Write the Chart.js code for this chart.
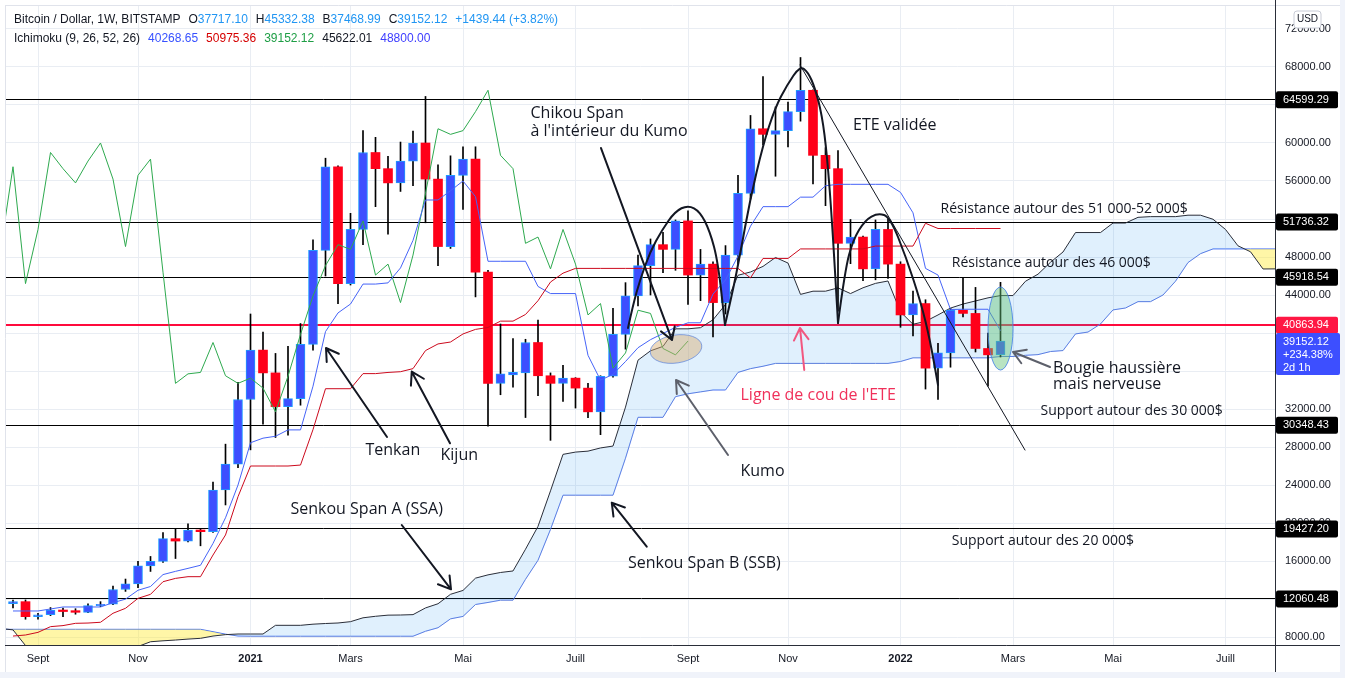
<!DOCTYPE html>
<html lang="fr">
<head>
<meta charset="utf-8">
<title>Bitcoin / Dollar - Ichimoku hebdo</title>
<script src="https://cdn.jsdelivr.net/npm/chart.js@4.4.1/dist/chart.umd.min.js"></script>
<style>
    html, body { margin: 0; padding: 0; background: #ffffff; overflow: hidden; }
    #btcChart { display: block; }
</style>
</head>
<body>
<canvas id="btcChart" width="1345" height="678"></canvas>
<script>
// weekly bars, index 0 = week of 24 Aug 2020, index 79 = week of 28 Feb 2022
var opens = [11520, 11720, 10140, 10340, 10840, 10770, 10600, 11300, 11450, 13000,
    13600, 15480, 15960, 18350, 18100, 19260, 19090, 23470, 26200, 33000,
    38200, 35800, 32250, 33100, 38800, 48700, 57500, 45200, 50900, 59000,
    57300, 55800, 58100, 60000, 56200, 49100, 56600, 58300, 46400, 34700,
    35600, 35800, 39000, 35500, 34700, 35250, 34200, 31700, 35450, 39850,
    43900, 47100, 49300, 48800, 51800, 46100, 47250, 43200, 48200, 54700,
    61500, 60910, 61300, 63300, 65550, 58700, 57300, 49440, 50100, 46750,
    50900, 47250, 41900, 43100, 36300, 37900, 42400, 42060, 38370, 37717.10];
var highs = [11890, 11900, 10490, 11100, 11050, 10980, 11480, 11720, 13360, 14100,
    15970, 16480, 18990, 19420, 19900, 19420, 24300, 28300, 34800, 42000,
    40100, 37850, 38600, 41000, 49800, 58400, 57600, 52600, 61300, 60600,
    58600, 60100, 61250, 64900, 57700, 58650, 59600, 59600, 46600, 40950,
    39400, 39340, 41370, 35800, 36600, 35300, 34700, 35500, 42600, 45300,
    48200, 49900, 50600, 51900, 52850, 48800, 47500, 49200, 56600, 62900,
    67000, 63800, 64300, 69000, 65600, 59500, 59200, 51950, 50200, 51900,
    52000, 47500, 44400, 43500, 38900, 42600, 45800, 44800, 40000, 45332.38];
var lows = [11050, 9870, 9870, 10250, 10150, 10400, 10550, 11200, 11400, 12800,
    13200, 14900, 15860, 16260, 18000, 17600, 19000, 21900, 25830, 27700,
    30400, 29000, 29250, 32400, 38200, 46000, 43100, 45050, 49300, 53300,
    50400, 54900, 55500, 51600, 47100, 48900, 53000, 43800, 30200, 33500,
    34300, 31100, 33400, 28700, 32800, 32100, 31100, 29300, 35350, 38300,
    42850, 44000, 46350, 46600, 43000, 43400, 39600, 42000, 47300, 54100,
    59800, 56500, 59600, 62300, 55700, 53400, 42300, 47300, 45500, 45600,
    45750, 40600, 39700, 34100, 33000, 36400, 41700, 38000, 34400, 37468.99];
var closes = [11720, 10140, 10340, 10840, 10680, 10600, 11300, 11450, 13000, 13600,
    15480, 15960, 18350, 18100, 19260, 19090, 23470, 26200, 33000, 38200,
    35800, 32250, 33100, 38800, 48700, 57500, 45200, 50900, 59000, 57300,
    55800, 58100, 60000, 56200, 49100, 56600, 58300, 46400, 34700, 35700,
    35850, 39000, 35500, 34700, 35250, 34200, 31700, 35450, 39850, 43900,
    47100, 49300, 48800, 51800, 46100, 47250, 43200, 48200, 54700, 61500,
    60910, 61300, 63300, 65550, 58700, 57300, 49440, 50100, 46750, 50900,
    47250, 41900, 43100, 36300, 37900, 42400, 42060, 38370, 37700, 39152.12];

// Ichimoku (9, 26, 52, 26), one value per bar
var tenkan = [10740, 10740, 10740, 10950, 11160, 11160, 11160, 11160, 11615, 11985,
    12920, 13315, 14570, 14910, 15225, 15550, 17850, 20550, 24000, 28450,
    28930, 29130, 29800, 29800, 34400, 40150, 42115, 43050, 45150, 45150,
    45275, 46850, 49750, 54000, 54000, 54975, 56000, 54350, 47550, 47550,
    47550, 47550, 44900, 44150, 44150, 44150, 37650, 35035, 35650, 37000,
    38450, 39300, 39950, 40600, 41075, 41075, 44100, 45575, 48100, 51250,
    53300, 53300, 53300, 54300, 54300, 55500, 55650, 55650, 55650, 55650,
    55650, 54800, 52650, 46800, 46100, 42475, 42500, 42500, 42500, 40250];
var kijun = [8100, 8210, 8490, 9090, 9200, 9440, 9470, 9550, 10500, 11020,
    12070, 12490, 13820, 14170, 14350, 14350, 16630, 18740, 22770, 26000,
    26000, 26000, 26000, 26100, 29835, 34135, 34135, 34135, 35725, 35725,
    35850, 35925, 36250, 38150, 38850, 39050, 39900, 40380, 40580, 41250,
    41250, 41950, 43400, 45365, 46300, 46800, 46800, 46800, 46800, 46800,
    46800, 46800, 46800, 46800, 46800, 46800, 46800, 46800, 46800, 45800,
    47850, 47850, 47850, 48850, 48850, 48850, 48850, 48850, 48850, 49150,
    49150, 49150, 49150, 51550, 51000, 51000, 51000, 51000, 51000, 51000];
// leading spans, first value sits one week before bar 0, last one 25 weeks after bar 79
var ssaLead = [8900, 8750, 7100, 7000, 7000, 7000, 7000, 7000, 7000, 7000,
    7000, 7000, 7500, 7600, 7680, 7780, 7860, 8100, 8250, 8315,
    8315, 8315, 9230, 9230, 9230, 9350,
    9420, 9475, 9615, 10020, 10180, 10300, 10315, 10355, 11060, 11500,
    12495, 12900, 14195, 14540, 14790, 14950, 17240, 19645, 23385, 27225,
    27465, 27565, 27900, 28100, 32200, 37140, 38125, 38590, 40440, 40440,
    40560, 41390, 43000, 46075, 46425, 47010, 47950, 47365, 44065, 44400,
    44400, 44750, 44150, 44760, 45225, 45475, 42225, 40920, 41225, 41900,
    42625, 43050, 43375, 43700, 43940, 43940, 45450, 46190, 47450, 48525,
    50575, 50575, 50575, 51575, 51575, 52175, 52250, 52250, 52250, 52400,
    52400, 51975, 50900, 49175, 48550, 46740, 46750, 46750, 46750, 45625];
var ssbLead = [8810, 8810, 8810, 8810, 8810, 8810, 8810, 8810, 8810, 8810,
    8810, 8810, 8810, 8810, 8810, 8810, 8810, 8560, 8300, 8100,
    8080, 8080, 8080, 8080, 8080, 8080, 8080, 8080, 8080, 8080,
    8080, 8080, 8080, 8080, 8605, 8975, 9910, 10165, 11420, 11635,
    11875, 11875, 14075, 16075, 19325, 22925, 22925, 22925, 22925, 22925,
    26825, 31125, 31125, 31125, 33300, 33600, 33800, 34000, 34000, 35850,
    36250, 36500, 36800, 36800, 36800, 36800, 36800, 36800, 36800, 36800,
    36800, 36800, 37000, 37385, 37385, 37385, 37385, 37385, 37385, 37385,
    37525, 37525, 37650, 37725, 38050, 38150, 39900, 40100, 40950, 42430,
    42630, 43300, 43300, 44000, 45450, 47415, 48350, 48850, 48850, 48850,
    48850, 48850, 48850, 48850, 48850, 48850];

var monthTicks = [2, 10, 19, 27, 36, 45, 54, 62, 71, 80, 88, 97];
var monthLabels = ['Sept', 'Nov', '2021', 'Mars', 'Mai', 'Juill', 'Sept', 'Nov', '2022', 'Mars', 'Mai', 'Juill'];
var priceTicks = [8000, 12000, 16000, 20000, 24000, 28000, 32000, 36000, 40000,
    44000, 48000, 52000, 56000, 60000, 64000, 68000, 72000];
var levels = [64599.29, 51736.32, 45918.54, 40863.94, 30348.43, 19427.20, 12060.48];
var neckline = 40863.94;

var ink = '#131722';
var grey = '#5d606b';
var pink = '#f0305a';
var upFill = '#3d4fff', upEdge = '#1e9bff', downFill = '#ff0019';

function points(values, shift) {
    return values.map(function (v, i) { return { x: i + shift, y: v }; });
}

var isUp = closes.map(function (c, i) { return c >= opens[i]; });
var bodies = opens.map(function (o, i) { return { x: i, y: [o, closes[i]] }; });
var wicks = lows.map(function (l, i) { return { x: i, y: [l, highs[i]] }; });

function roundRect(c, x, y, w, h, r) {
    c.beginPath();
    c.moveTo(x + r, y);
    c.lineTo(x + w - r, y);
    c.quadraticCurveTo(x + w, y, x + w, y + r);
    c.lineTo(x + w, y + h - r);
    c.quadraticCurveTo(x + w, y + h, x + w - r, y + h);
    c.lineTo(x + r, y + h);
    c.quadraticCurveTo(x, y + h, x, y + h - r);
    c.lineTo(x, y + r);
    c.quadraticCurveTo(x, y, x + r, y);
    c.closePath();
}

function drawArrow(c, x1, y1, x2, y2, color, width) {
    var ang = Math.atan2(y2 - y1, x2 - x1), len = 14;
    c.strokeStyle = color;
    c.lineWidth = width;
    c.lineCap = 'round';
    c.lineJoin = 'round';
    c.beginPath();
    c.moveTo(x1, y1);
    c.lineTo(x2, y2);
    c.moveTo(x2 - len * Math.cos(ang - 0.55), y2 - len * Math.sin(ang - 0.55));
    c.lineTo(x2, y2);
    c.lineTo(x2 - len * Math.cos(ang + 0.55), y2 - len * Math.sin(ang + 0.55));
    c.stroke();
}

function smoothLine(c, pts) {
    c.beginPath();
    c.moveTo(pts[0][0], pts[0][1]);
    for (var k = 1; k < pts.length - 1; k++) {
        var mx = (pts[k][0] + pts[k + 1][0]) / 2, my = (pts[k][1] + pts[k + 1][1]) / 2;
        c.quadraticCurveTo(pts[k][0], pts[k][1], mx, my);
    }
    c.lineTo(pts[pts.length - 1][0], pts[pts.length - 1][1]);
    c.stroke();
}

function noPadding(axis) {
    axis.paddingTop = 0;
    axis.paddingBottom = 0;
    axis.paddingLeft = 0;
    axis.paddingRight = 0;
}

// drawings made on the chart (in week index / price units)
var leftShoulder = [[49.2, 40530], [49.6, 42950], [50.16, 45580], [50.96, 48530], [51.92, 50840],
    [52.96, 52790], [54.0, 53470], [54.96, 52790], [55.76, 50680], [56.4, 47470], [56.96, 40840]];
var head = [[56.96, 40840], [57.6, 44530], [58.16, 48210], [58.96, 54000], [60.0, 59790], [60.96, 63680],
    [61.92, 66110], [62.96, 68110], [63.6, 67470], [64.16, 65790], [64.72, 62950], [65.12, 58740],
    [65.52, 51890], [66.0, 41050]];
var rightShoulder = [[66.0, 41050], [66.56, 46630], [67.2, 49790], [68.16, 51890], [69.2, 52630],
    [70.16, 52210], [71.44, 48000], [72.64, 43160], [73.36, 39260], [74.0, 34530]];

var notes = [
    ['Chikou Span', 41.4, 63150, 16, ink],
    ["à l'intérieur du Kumo", 41.4, 61260, 16, ink],
    ['ETE validée', 67.2, 61890, 16, ink],
    ['Résistance autour des 51 000-52 000$', 74.2, 53050, 14, ink],
    ['Résistance autour des 46 000$', 75.1, 47370, 14, ink],
    ['Bougie haussière', 83.2, 36320, 16, ink],
    ['mais nerveuse', 83.2, 34630, 16, ink],
    ['Support autour des 30 000$', 82.2, 31790, 14, ink],
    ['Support autour des 20 000$', 75.1, 18100, 14, ink],
    ["Ligne de cou de l'ETE", 58.2, 33470, 16, pink],
    ['Tenkan', 28.2, 27680, 16, ink],
    ['Kijun', 34.2, 27160, 16, ink],
    ['Kumo', 58.2, 25470, 16, ink],
    ['Senkou Span A (SSA)', 22.2, 21470, 16, ink],
    ['Senkou Span B (SSB)', 49.2, 15790, 16, ink]
];
var arrows = [
    [29.92, 29050, 25.04, 38420, ink],
    [34.96, 28390, 31.9, 35930, ink],
    [31.1, 19790, 35.04, 13020, ink],
    [50.7, 17510, 47.9, 22140, ink],
    [57.2, 27160, 53.04, 35050, grey],
    [47.04, 59470, 52.72, 39260, ink],
    [63.3, 36110, 62.96, 40530, '#f2577f'],
    [82.96, 36420, 80, 38000, grey]
];

var chartDrawings = {
    id: 'chartDrawings',
    beforeDraw: function (chart) {
        var c = chart.ctx;
        c.save();
        c.fillStyle = '#ffffff';
        c.fillRect(0, 0, chart.width, chart.height);
        c.restore();
    },
    beforeDatasetsDraw: function (chart) {
        var c = chart.ctx, a = chart.chartArea, ys = chart.scales.y;
        c.save();
        levels.forEach(function (lv) {
            var red = lv === neckline;
            var y = Math.round(ys.getPixelForValue(lv)) + (red ? 0 : 0.5);
            c.strokeStyle = red ? '#ff0a3c' : '#000000';
            c.lineWidth = red ? 2 : 1;
            c.beginPath();
            c.moveTo(a.left, y);
            c.lineTo(a.right + 2, y);
            c.stroke();
        });
        c.restore();
    },
    afterDatasetsDraw: function (chart) {
        var c = chart.ctx, a = chart.chartArea, xs = chart.scales.x, ys = chart.scales.y;
        function P(p) { return [xs.getPixelForValue(p[0]), ys.getPixelForValue(p[1])]; }
        c.save();
        c.beginPath();
        c.rect(a.left, a.top, a.right - a.left, a.bottom - a.top);
        c.clip();

        // ellipses
        var e1 = P([53.04, 38316]);
        c.beginPath();
        c.ellipse(e1[0], e1[1], 26, 14, -0.15, 0, Math.PI * 2);
        c.fillStyle = 'rgba(214,170,110,0.45)';
        c.fill();
        c.strokeStyle = 'rgba(90,130,220,0.7)';
        c.lineWidth = 1;
        c.stroke();
        var e2 = P([79, 40470]);
        c.beginPath();
        c.ellipse(e2[0], e2[1], 12.5, 41.5, 0, 0, Math.PI * 2);
        c.fillStyle = 'rgba(100,195,120,0.45)';
        c.fill();
        c.strokeStyle = 'rgba(70,130,230,0.85)';
        c.stroke();

        // head and shoulders
        c.strokeStyle = ink;
        c.lineWidth = 2;
        c.lineCap = 'round';
        smoothLine(c, leftShoulder.map(P));
        smoothLine(c, head.map(P));
        smoothLine(c, rightShoulder.map(P));
        var d1 = P([62.96, 68210]), d2 = P([80.96, 27680]);
        c.lineWidth = 1;
        c.beginPath();
        c.moveTo(d1[0], d1[1]);
        c.lineTo(d2[0], d2[1]);
        c.stroke();

        arrows.forEach(function (ar) {
            var t = P([ar[0], ar[1]]), h = P([ar[2], ar[3]]);
            drawArrow(c, t[0], t[1], h[0], h[1], ar[4], 2);
        });

        c.textBaseline = 'middle';
        c.textAlign = 'left';
        notes.forEach(function (n) {
            var p = P([n[1], n[2]]);
            c.font = n[3] + 'px "Open Sans"';
            c.fillStyle = n[4];
            c.fillText(n[0], p[0], p[1]);
        });
        c.restore();
    },
    afterDraw: function (chart) {
        var c = chart.ctx, a = chart.chartArea, ys = chart.scales.y;
        c.save();
        // frame
        c.fillStyle = '#f0f3fa';
        c.fillRect(1340, 0, 5, chart.height);
        c.fillRect(0, 672, chart.width, 6);
        c.strokeStyle = '#e0e3eb';
        c.lineWidth = 1;
        c.beginPath();
        c.moveTo(5.5, 5); c.lineTo(5.5, 672);
        c.moveTo(5, 5.5); c.lineTo(1340, 5.5);
        c.stroke();
        c.strokeStyle = '#2a2e39';
        c.beginPath();
        c.moveTo(a.right + 0.5, 0); c.lineTo(a.right + 0.5, 672);
        c.moveTo(5, a.bottom + 0.5); c.lineTo(1340, a.bottom + 0.5);
        c.stroke();

        // price tags on the axis
        c.font = '11px "Liberation Sans"';
        c.textBaseline = 'middle';
        c.textAlign = 'left';
        levels.forEach(function (lv) {
            var y = ys.getPixelForValue(lv);
            c.fillStyle = lv === neckline ? '#ff1744' : '#000000';
            roundRect(c, a.right + 1, y - 8, 62, 17, 2);
            c.fill();
            c.fillStyle = '#ffffff';
            c.fillText(lv.toFixed(2), a.right + 8, y + 0.5);
        });
        var yc = ys.getPixelForValue(closes[closes.length - 1]);
        c.fillStyle = upFill;
        roundRect(c, a.right + 1, yc - 8, 64, 42, 2);
        c.fill();
        c.fillStyle = '#ffffff';
        c.fillText(closes[closes.length - 1].toFixed(2), a.right + 8, yc + 0.5);
        c.fillText('+234.38%', a.right + 8, yc + 14);
        c.fillText('2d 1h', a.right + 8, yc + 27);

        // USD button
        c.fillStyle = '#ffffff';
        roundRect(c, 1294, 11, 27, 17, 3);
        c.fill();
        c.strokeStyle = '#c9ccd6';
        c.stroke();
        c.fillStyle = ink;
        c.font = '10px "Liberation Sans"';
        c.textAlign = 'center';
        c.fillText('USD', 1307.5, 19.5);

        // header
        c.textAlign = 'left';
        c.font = '12px "Liberation Sans"';
        var blue = '#2196f3';
        var n = closes.length - 1;
        var row1 = [['Bitcoin / Dollar, 1W, BITSTAMP', ink, 8], ['O', ink, 0], [opens[n].toFixed(2), blue, 8],
            ['H', ink, 0], [highs[n].toFixed(2), blue, 8], ['B', ink, 0], [lows[n].toFixed(2), blue, 8],
            ['C', ink, 0], [closes[n].toFixed(2), blue, 8], ['+1439.44 (+3.82%)', blue, 0]];
        var row2 = [['Ichimoku (9, 26, 52, 26)', ink, 8], ['40268.65', '#3751ff', 8], ['50975.36', '#d50000', 8],
            ['39152.12', '#1e9e45', 8], ['45622.01', ink, 8], ['48800.00', '#3d3dff', 8]];
        [[row1, 20], [row2, 39]].forEach(function (r) {
            var x = 14;
            r[0].forEach(function (s) {
                c.fillStyle = s[1];
                c.fillText(s[0], x, r[1]);
                x += c.measureText(s[0]).width + s[2];
            });
        });
        c.restore();
    }
};

Chart.defaults.font.family = '"Liberation Sans", Arial, sans-serif';

var ctx = document.getElementById('btcChart').getContext('2d');
var chart = new Chart(ctx, {
    type: 'line',
    data: {
        datasets: [
            {
                label: 'Senkou Span A',
                data: points(ssaLead, -1),
                borderColor: '#2a2e39',
                borderWidth: 1,
                pointRadius: 0,
                fill: { target: 1, above: 'rgba(33,150,243,0.14)', below: 'rgba(255,235,59,0.45)' },
                order: 3
            },
            {
                label: 'Senkou Span B',
                data: points(ssbLead, -1),
                borderColor: '#4a72f5',
                borderWidth: 1,
                pointRadius: 0,
                fill: false,
                order: 3
            },
            {
                type: 'bar',
                label: 'wicks',
                data: wicks,
                backgroundColor: '#000000',
                barThickness: 1,
                grouped: false,
                order: 2
            },
            {
                type: 'bar',
                label: 'BTCUSD',
                data: bodies,
                backgroundColor: isUp.map(function (u) { return u ? upFill : downFill; }),
                borderColor: isUp.map(function (u) { return u ? upEdge : downFill; }),
                borderWidth: isUp.map(function (u) { return u ? 1 : 0; }),
                borderSkipped: false,
                barThickness: 9,
                grouped: false,
                order: 1
            },
            {
                label: 'Kijun',
                data: points(kijun, 0),
                borderColor: '#cc0a1d',
                borderWidth: 1,
                pointRadius: 0,
                order: 0
            },
            {
                label: 'Tenkan',
                data: points(tenkan, 0),
                borderColor: '#4664f8',
                borderWidth: 1,
                pointRadius: 0,
                order: 0
            },
            {
                label: 'Chikou',
                data: points(closes.slice(24), -1),
                borderColor: '#2eaa4f',
                borderWidth: 1,
                pointRadius: 0,
                order: 0
            }
        ]
    },
    options: {
        responsive: false,
        animation: false,
        devicePixelRatio: 1,
        layout: { padding: { top: 6, left: 6, right: 0, bottom: 0 } },
        plugins: {
            legend: { display: false },
            tooltip: { enabled: false }
        },
        scales: {
            x: {
                type: 'linear',
                min: -0.56,
                max: 100.96,
                offset: false,
                afterBuildTicks: function (axis) {
                    axis.ticks = monthTicks.map(function (v) { return { value: v }; });
                },
                afterFit: function (axis) { axis.height = 33; noPadding(axis); },
                grid: { color: '#e9edf3', drawTicks: false, offset: false },
                border: { display: false },
                ticks: {
                    autoSkip: false,
                    maxRotation: 0,
                    padding: 7,
                    color: ink,
                    font: function (c) {
                        var lbl = monthLabels[c.index] || '';
                        return { size: 11, weight: lbl.indexOf('20') === 0 ? 'bold' : 'normal' };
                    },
                    callback: function (value) { return monthLabels[monthTicks.indexOf(value)]; }
                }
            },
            y: {
                type: 'linear',
                position: 'right',
                min: 7158,
                max: 74421,
                afterBuildTicks: function (axis) {
                    axis.ticks = priceTicks.map(function (v) { return { value: v }; });
                },
                afterFit: function (axis) { axis.width = 70; noPadding(axis); },
                grid: { color: '#e9edf3', drawTicks: false },
                border: { display: false },
                ticks: {
                    padding: 10,
                    color: ink,
                    font: { size: 11 },
                    callback: function (value) { return value.toFixed(2); }
                }
            }
        }
    },
    plugins: [chartDrawings]
});
</script>
</body>
</html>
